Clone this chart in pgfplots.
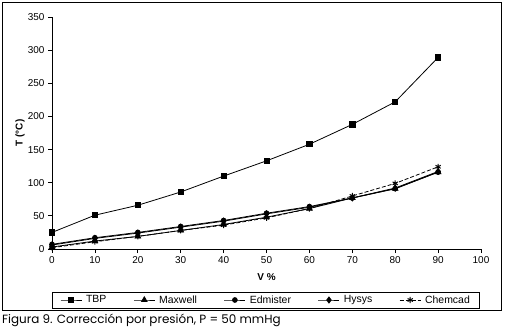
\documentclass[border=0pt]{standalone}
\usepackage{fontspec}
\setmainfont{Liberation Sans}
\newfontfamily\capfont{Poppins}
\usepackage{pgfplots}
\pgfplotsset{compat=1.18}
\begin{document}
\begin{tikzpicture}[x=1bp,y=1bp]
\path[use as bounding box] (0,0) rectangle (506,332);
\draw[line width=0.8bp] (2,22) rectangle (501,330);
\begin{axis}[
  at={(52bp,83bp)}, anchor=south west,
  scale only axis, width=429bp, height=232bp,
  xmin=0, xmax=100, ymin=0, ymax=350,
  axis lines*=left,
  axis line style={line width=0.8bp},
  tick align=outside, major tick length=4bp,
  tick style={line width=0.8bp, black},
  xtick={0,10,...,100}, ytick={0,50,...,350},
  tick label style={font=\fontsize{10}{12}\selectfont},
  /pgf/number format/assume math mode=true,
  xlabel={V \%}, ylabel={T (°C)},
  label style={font=\fontsize{10}{12}\selectfont\bfseries},
  xlabel style={at={(axis description cs:0.5,-0.1207)}, anchor=center},
  ylabel style={at={(axis description cs:-0.0746,0.5)}, anchor=center},
  every axis plot/.append style={line width=0.8bp, black},
  legend columns=5,
  legend style={at={(0.499,-0.2198)}, anchor=center, draw=black, line width=0.8bp,
    font=\fontsize{10.5}{12}\selectfont, inner xsep=8bp, inner ysep=1.5bp,
    /tikz/every even column/.append style={column sep=25bp},
    /tikz/every odd column/.append style={column sep=2bp}},
  legend cell align=left,
  legend image code/.code={\draw[mark repeat=2,mark phase=2,#1] plot coordinates {(0bp,0bp)(10.5bp,0bp)(21bp,0bp)};},
]
\addplot[mark=square*, mark size=2.6bp] coordinates {
(0,25) (10,51) (20,66) (30,86) (40,110) (50,133) (60,158) (70,188) (80,222) (90,289)};
\addlegendentry{TBP}
\addplot[mark=triangle*, mark size=3.2bp] coordinates {
(0,3) (10,12) (20,19) (30,28) (40,37) (50,48) (60,61) (70,77) (80,91) (90,116)};
\addlegendentry{Maxwell}
\addplot[mark=*, mark size=2.4bp] coordinates {
(0,7) (10,17) (20,25) (30,34) (40,43) (50,54) (60,64) (70,77) (80,91) (90,116)};
\addlegendentry{Edmister}
\addplot[mark=diamond*, mark size=3bp] coordinates {
(0,6) (10,16) (20,24) (30,33) (40,42) (50,53) (60,63) (70,77) (80,92) (90,117)};
\addlegendentry{Hysys}
\addplot[dashed, dash pattern=on 4bp off 2bp, mark=asterisk, mark size=3bp, mark options={solid, line width=1bp}] coordinates {
(0,2) (10,11) (20,19) (30,28) (40,36) (50,47) (60,61) (70,80) (80,99) (90,124)};
\addlegendentry{Chemcad}
\end{axis}
\node[anchor=west, inner sep=0pt] at (2,12) {\capfont\fontsize{12}{14}\selectfont Figura 9. Corrección por presión, P = 50 mmHg};
\end{tikzpicture}
\end{document}
